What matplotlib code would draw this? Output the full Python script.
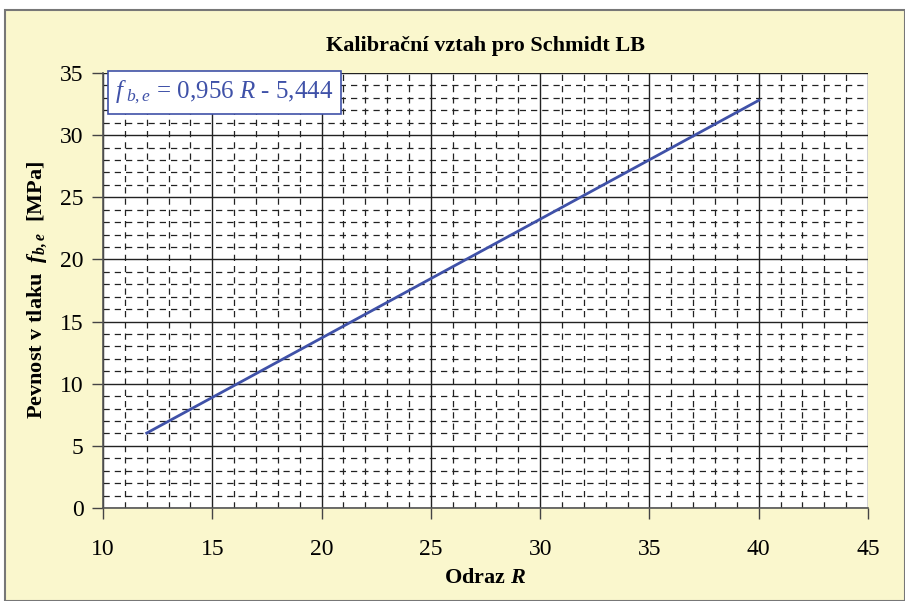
import matplotlib.pyplot as plt
from matplotlib.patches import Rectangle
from matplotlib.ticker import MultipleLocator

plt.rcParams['font.family'] = ['Liberation Serif', 'DejaVu Serif']
plt.rcParams['mathtext.fontset'] = 'custom'
plt.rcParams['mathtext.rm'] = 'Liberation Serif'
plt.rcParams['mathtext.it'] = 'Liberation Serif:italic'
plt.rcParams['mathtext.bf'] = 'Liberation Serif:bold'
plt.rcParams['mathtext.bfit'] = 'Liberation Serif:italic:bold'

# data
R = [12, 40]
fbe = [6.03, 32.80]
xticks = [10, 15, 20, 25, 30, 35, 40, 45]
yticks = [0, 5, 10, 15, 20, 25, 30, 35]

bg = '#faf7cd'
fig = plt.figure(figsize=(9.05, 6.01), dpi=100)
fig.patch.set_facecolor('white')
fig.patches.append(Rectangle((0.006, 0.0), 0.994, 0.983, transform=fig.transFigure,
                             facecolor=bg, edgecolor='#777777', linewidth=1.5, zorder=-1))

ax = fig.add_axes([0.1138, 0.1547, 0.8453, 0.7238])
ax.set_facecolor('white')
ax.plot(R, fbe, color='#3f51a8', linewidth=2)

ax.set_xlim(10, 45)
ax.set_ylim(0, 35)
ax.set_xticks(xticks)
ax.set_yticks(yticks)
ax.xaxis.set_minor_locator(MultipleLocator(1))
ax.yaxis.set_minor_locator(MultipleLocator(1))
ax.grid(which='major', color='#222222', linewidth=1.0)
ax.grid(which='minor', color='#222222', linewidth=0.9, linestyle=(0, (5, 4)))
ax.set_axisbelow(True)
ax.tick_params(which='major', length=8, width=1, color='#444444', labelsize=17, pad=14)
ax.tick_params(axis='y', which='major', pad=6)
ax.tick_params(which='minor', length=0)
for s in ['top', 'right']:
    ax.spines[s].set_visible(False)
for s in ['left', 'bottom']:
    ax.spines[s].set_color('#555555')
    ax.spines[s].set_linewidth(1.2)

ax.set_title('Kalibrační vztah pro Schmidt LB', fontsize=16, fontweight='bold', pad=16)
ax.set_xlabel('Odraz $\\mathbfit{R}$', fontsize=16, fontweight='bold', labelpad=6)
ax.set_ylabel('Pevnost v tlaku  $\\mathbfit{f}_{\\mathbfit{b,e}}$  [MPa]', fontsize=16,
              fontweight='bold', labelpad=8)

ax.text(0.016, 0.955, '$f_{\\ b,e}$ = 0,956 $R$ - 5,444', transform=ax.transAxes,
        fontsize=18, color='#3f51a8', va='center', ha='left',
        bbox=dict(boxstyle='square,pad=0.3', facecolor='white', edgecolor='#3f51a8',
                  linewidth=1.2), zorder=5)

fig.savefig('out.png', dpi=100, facecolor=fig.get_facecolor())
